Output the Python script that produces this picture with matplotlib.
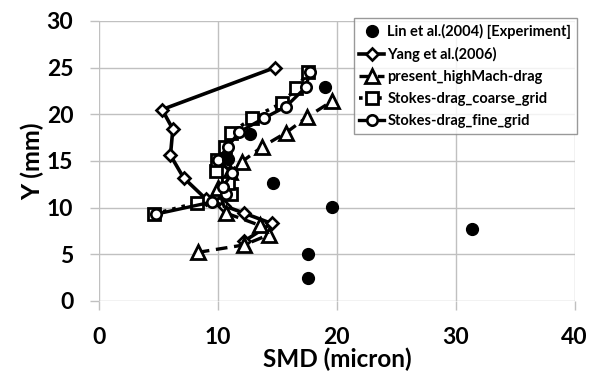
import matplotlib.pyplot as plt

plt.rcParams['font.family'] = ['Lato', 'DejaVu Sans']
plt.rcParams['font.weight'] = 'bold'

# Lin et al. (2004) experiment
lin_x = [17.6, 17.6, 31.4, 19.6, 14.6, 10.8, 12.7, 19.0]
lin_y = [2.5, 5.0, 7.7, 10.1, 12.6, 15.2, 17.9, 22.9]

# Yang et al. (2006)
yang_x = [14.8, 5.3, 6.2, 6.0, 7.1, 9.0, 10.5, 12.2, 14.5, 12.2]
yang_y = [25.0, 20.5, 18.4, 15.6, 13.2, 10.9, 10.2, 9.4, 8.3, 6.4]

# present high-Mach drag
hm_x = [8.3, 12.2, 14.3, 13.5, 10.7, 10.0, 11.0, 12.0, 13.7, 15.7, 17.5, 19.6]
hm_y = [5.2, 6.0, 7.1, 8.1, 9.4, 12.1, 13.8, 14.9, 16.5, 18.0, 19.7, 21.4]

# Stokes drag, coarse grid
sc_x = [4.6, 8.2, 11.1, 10.8, 9.8, 9.9, 10.6, 11.1, 12.9, 15.4, 16.6, 17.6]
sc_y = [9.3, 10.5, 11.4, 12.6, 13.9, 15.1, 16.5, 18.0, 19.6, 21.2, 22.8, 24.5]

# Stokes drag, fine grid
sf_x = [4.8, 9.5, 10.7, 10.4, 11.2, 10.0, 10.8, 11.8, 13.9, 15.7, 17.4, 17.7]
sf_y = [9.3, 10.6, 11.4, 12.2, 13.7, 15.1, 16.5, 18.1, 19.6, 20.8, 22.9, 24.5]

fig = plt.figure(figsize=(5.9, 3.79), dpi=100)
ax = fig.add_axes([0.168, 0.206, 0.806, 0.739])

ax.plot(lin_x, lin_y, 'o', color='black', ms=8.5, label='Lin et al.(2004) [Experiment]', zorder=5)
ax.plot(yang_x, yang_y, '-', marker='D', color='black', lw=2.6, ms=6.5, mfc='white', mew=1.9,
        label='Yang et al.(2006)')
ax.plot(hm_x, hm_y, '--', marker='^', color='black', lw=2.4, ms=10, mfc='white', mew=2.0,
        dashes=(3.5, 2), label='present_highMach-drag')
ax.plot(sc_x, sc_y, ':', marker='s', color='black', lw=2.6, ms=8.5, mfc='white', mew=2.0,
        label='Stokes-drag_coarse_grid')
ax.plot(sf_x, sf_y, '-', marker='o', color='black', lw=2.4, ms=7.5, mfc='white', mew=1.9,
        label='Stokes-drag_fine_grid')

ax.set_xlim(0, 40)
ax.set_ylim(0, 30)
ax.set_xticks([0, 10, 20, 30, 40])
ax.set_yticks([0, 5, 10, 15, 20, 25, 30])
ax.grid(True, color='#c0c0c0', lw=1)
ax.set_axisbelow(True)
for s in ax.spines.values():
    s.set_visible(False)
ax.tick_params(colors='#c0c0c0', length=6.5, width=1, labelcolor='black', labelsize=16.5, pad=12)
for lab in ax.get_xticklabels() + ax.get_yticklabels():
    lab.set_fontweight('bold')

ax.set_xlabel('SMD (micron)', fontsize=17.5, fontweight='bold', labelpad=0)
ax.set_ylabel('Y (mm)', fontsize=18, fontweight='bold', labelpad=2)

leg = ax.legend(loc='upper right', bbox_to_anchor=(1.005, 1.01), fontsize=10.5, frameon=True,
                fancybox=False, edgecolor='#808080', handlelength=1.7, handletextpad=0.2,
                labelspacing=0.55, borderpad=0.4, borderaxespad=0)
leg.get_frame().set_linewidth(1)
for t in leg.get_texts():
    t.set_fontweight('bold')

fig.savefig('out.png', dpi=100)
